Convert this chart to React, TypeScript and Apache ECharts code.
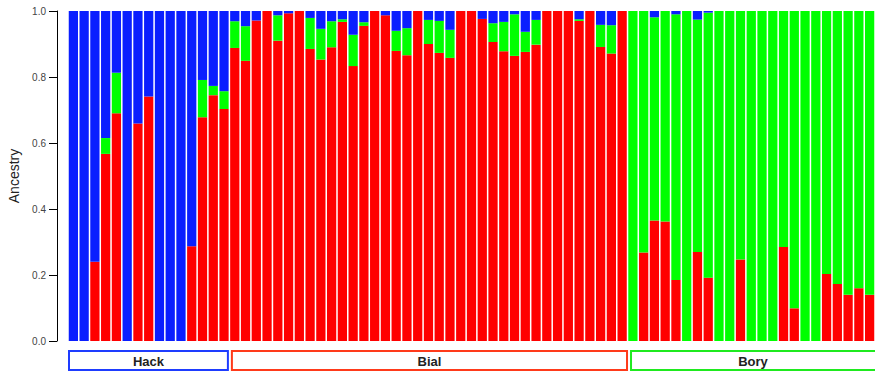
import React, { useEffect, useRef } from "react";
import * as echarts from "echarts";

const samples: string[] = Array.from({ length: 75 }, (_, i) => String(i + 1));

const red: number[] = [
  0, 0, 0.24, 0.567, 0.69, 0, 0.659, 0.741, 0, 0, 0, 0.287, 0.678, 0.745, 0.703,
  0.888, 0.849, 0.971, 1, 0.91, 0.993, 1, 0.885, 0.853, 0.89, 0.967, 0.833, 0.955, 1, 0.987,
  0.879, 0.866, 1, 0.9, 0.873, 0.858, 1, 1, 0.976, 0.906, 0.878, 0.864, 0.876, 0.898, 1,
  1, 1, 0.97, 1, 0.891, 0.871, 1,
  0, 0.268, 0.365, 0.362, 0.185, 0, 0.27, 0.192, 0, 0, 0.247, 0, 0, 0, 0.285,
  0.099, 0, 0, 0.203, 0.173, 0.14, 0.16, 0.14,
];

const green: number[] = [
  0, 0, 0, 0.048, 0.123, 0, 0, 0, 0, 0, 0, 0, 0.113, 0.028, 0.054,
  0.081, 0.105, 0, 0, 0.077, 0, 0, 0.094, 0.093, 0.079, 0.008, 0.095, 0.011, 0, 0,
  0.061, 0.082, 0, 0.073, 0.097, 0.085, 0, 0, 0, 0.057, 0.089, 0.126, 0.061, 0.075, 0,
  0, 0, 0.005, 0, 0.067, 0.086, 0,
  1, 0.732, 0.616, 0.638, 0.805, 1, 0.704, 0.803, 1, 1, 0.753, 1, 1, 1, 0.715,
  0.901, 1, 1, 0.797, 0.827, 0.86, 0.84, 0.86,
];

const blue: number[] = [
  1, 1, 0.76, 0.385, 0.187, 1, 0.341, 0.259, 1, 1, 1, 0.713, 0.209, 0.227, 0.243,
  0.031, 0.046, 0.029, 0, 0.013, 0.007, 0, 0.021, 0.054, 0.031, 0.025, 0.072, 0.034, 0, 0.013,
  0.06, 0.052, 0, 0.027, 0.03, 0.057, 0, 0, 0.024, 0.037, 0.033, 0.01, 0.063, 0.027, 0,
  0, 0, 0.025, 0, 0.042, 0.043, 0,
  0, 0, 0.019, 0, 0.01, 0, 0.026, 0.005, 0, 0, 0, 0, 0, 0, 0,
  0, 0, 0, 0, 0, 0, 0, 0,
];

const groupNames: string[] = ["Hack", "Bial", "Bory"];
const groupSizes: number[] = [15, 37, 23];
const groupColors: string[] = ["#1E3CFF", "#FF3A1A", "#1FEA1F"];

const yTicks: number[] = [0, 0.2, 0.4, 0.6, 0.8, 1.0];

const FONT = "'Liberation Sans', Arial, Helvetica, sans-serif";

export default function App() {
  const ref = useRef<HTMLDivElement>(null);

  useEffect(() => {
    if (!ref.current) return;
    const chart = echarts.init(ref.current, null, { renderer: "svg" });
    const barBase = {
      type: "bar" as const,
      stack: "anc",
      barCategoryGap: "14%",
      silent: true,
    };
    chart.setOption({
      animation: false,
      backgroundColor: "#ffffff",
      grid: {
        left: 68,
        top: 11,
        width: 807,
        bottom: 32,
        containLabel: false,
        outerBoundsMode: "none",
      },
      xAxis: {
        type: "category",
        data: samples,
        show: false,
      },
      yAxis: {
        type: "value",
        min: 0,
        max: 1,
        interval: 0.2,
        offset: 11,
        name: "Ancestry",
        nameLocation: "middle",
        nameGap: 32,
        nameTextStyle: { fontFamily: FONT, fontSize: 14, color: "#222" },
        splitLine: { show: false },
        axisLine: { show: true, lineStyle: { color: "#000", width: 1 } },
        axisTick: { show: true, length: 8, lineStyle: { color: "#000" } },
        axisLabel: {
          fontFamily: FONT,
          fontSize: 10,
          color: "#444",
          margin: 11,
          formatter: (v: number) => (yTicks.includes(Math.round(v * 10) / 10) ? v.toFixed(1) : ""),
        },
      },
      series: [
        { ...barBase, name: "red", data: red, itemStyle: { color: "#FF0000" } },
        { ...barBase, name: "green", data: green, itemStyle: { color: "#00FF00" } },
        { ...barBase, name: "blue", data: blue, itemStyle: { color: "#0A1EFF" } },
      ],
    });

    // group boxes below the bars, from the category scale
    const c0 = chart.convertToPixel({ xAxisIndex: 0 }, 0) as number;
    const c1 = chart.convertToPixel({ xAxisIndex: 0 }, 1) as number;
    const band = c1 - c0;
    const start0 = c0 - band / 2;
    const elements: any[] = [];
    let idx = 0;
    const padL = [1, 2.5, 3.5];
    const padR = [1.5, 0.5, -6];
    groupNames.forEach((name, g) => {
      const b0 = start0 + idx * band;
      idx += groupSizes[g];
      const b1 = start0 + idx * band;
      const x0 = b0 + padL[g];
      const x1 = b1 - padR[g];
      elements.push({
        type: "rect",
        shape: { x: x0, y: 351, width: x1 - x0, height: 19 },
        style: { fill: "#fff", stroke: groupColors[g], lineWidth: 2 },
        silent: true,
      });
      elements.push({
        type: "text",
        x: (x0 + Math.min(x1, 875)) / 2,
        y: 361,
        style: {
          text: name,
          fontFamily: FONT,
          fontSize: 13,
          fontWeight: "bold",
          fill: "#222",
          align: "center",
          verticalAlign: "middle",
        },
        silent: true,
      });
    });
    chart.setOption({ graphic: { elements } });

    return () => chart.dispose();
  }, []);

  return (
    <div
      ref={ref}
      style={{ position: "fixed", left: 0, top: 0, width: 875, height: 373, overflow: "hidden" }}
    />
  );
}
